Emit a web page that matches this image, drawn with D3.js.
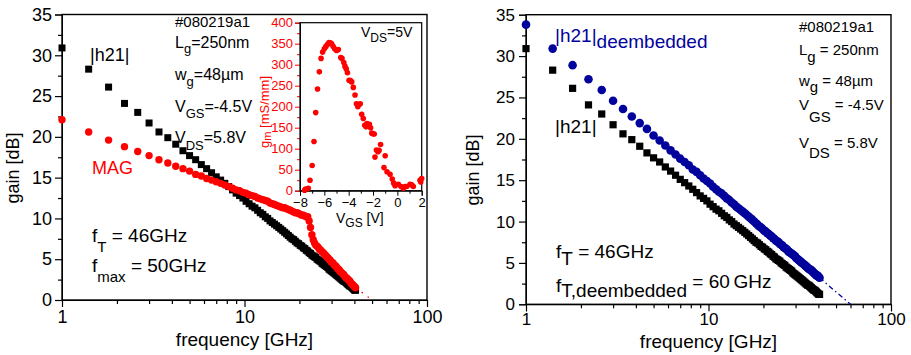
<!DOCTYPE html>
<html>
<head>
<meta charset="utf-8">
<script src="https://cdn.jsdelivr.net/npm/d3@7"></script>
<style>
  body { margin: 0; background: #fff; }
  svg { display: block; font-family: "Liberation Sans", Arial, Helvetica, sans-serif; }
</style>
</head>
<body>
<svg id="chart" width="911" height="355"></svg>
<script>
// measured frequencies (GHz)
const freqGHz = [1.0,1.4,1.8,2.2,2.6,3.0,3.4,3.8,4.2,4.6,5.0,5.4,5.8,6.2,6.6,7.0,7.4,7.8,8.2,8.6,
  9.0,9.4,9.8,10.2,10.6,11.0,11.4,11.8,12.2,12.6,13.0,13.4,13.8,14.2,14.6,15.0,15.4,15.8,16.2,16.6,
  17.0,17.4,17.8,18.2,18.6,19.0,19.4,19.8,20.2,20.6,21.0,21.4,21.8,22.2,22.6,23.0,23.4,23.8,24.2,24.6,
  25.0,25.4,25.8,26.2,26.6,27.0,27.4,27.8,28.2,28.6,29.0,29.4,29.8,30.2,30.6,31.0,31.4,31.8,32.2,32.6,
  33.0,33.4,33.8,34.2,34.6,35.0,35.4,35.8,36.2,36.6,37.0,37.4,37.8,38.2,38.6,39.0,39.4,39.8,40.2,40.6];

// |h21| (dB)
const h21dB = [30.9,28.3,26.1,24.1,23.0,21.7,20.6,19.9,19.1,18.3,
  17.7,17.2,16.6,16.1,15.6,15.1,14.7,14.3,13.9,13.5,
  13.1,12.8,12.5,12.1,11.8,11.5,11.3,11.0,10.7,10.5,
  10.2,10.0,9.7,9.5,9.3,9.1,8.9,8.7,8.5,8.3,
  8.1,7.9,7.7,7.5,7.4,7.2,7.0,6.9,6.7,6.6,
  6.4,6.3,6.1,6.0,5.8,5.7,5.5,5.4,5.3,5.2,
  5.0,4.9,4.8,4.7,4.5,4.4,4.3,4.2,4.1,4.0,
  3.8,3.7,3.6,3.5,3.4,3.3,3.2,3.1,3.0,2.9,
  2.8,2.7,2.6,2.5,2.4,2.3,2.3,2.2,2.1,2.0,
  1.9,1.8,1.7,1.7,1.6,1.5,1.4,1.3,1.2,1.2];

// MAG (dB)
const magDB = [22.1,20.6,19.6,18.8,18.2,17.7,17.2,16.8,16.4,16.1,
  15.8,15.4,15.2,14.9,14.7,14.5,14.3,14.1,13.9,13.7,
  13.5,13.4,13.2,13.1,12.9,12.8,12.7,12.5,12.4,12.3,
  12.2,12.1,11.9,11.8,11.7,11.6,11.5,11.4,11.3,11.3,
  11.2,11.1,11.0,10.9,10.8,10.7,10.7,10.6,10.5,10.4,
  10.4,10.3,10.2,10.2,9.7,8.9,8.0,7.4,7.0,6.7,
  6.6,6.4,6.2,6.1,5.9,5.8,5.6,5.5,5.3,5.2,
  5.0,4.9,4.7,4.6,4.5,4.3,4.2,4.1,3.9,3.8,
  3.7,3.5,3.4,3.3,3.2,3.1,2.9,2.8,2.7,2.6,
  2.5,2.4,2.3,2.1,2.0,1.9,1.8,1.7,1.6,1.5];

// |h21| deembedded (dB)
const h21DeembDB = [33.8,30.9,28.9,27.2,25.9,24.6,23.6,22.7,21.9,21.2,
  20.4,19.8,19.2,18.6,18.1,17.6,17.2,16.8,16.3,16.0,
  15.6,15.2,14.9,14.6,14.2,13.9,13.6,13.4,13.1,12.8,
  12.6,12.3,12.1,11.8,11.6,11.4,11.2,11.0,10.8,10.6,
  10.4,10.2,10.0,9.8,9.6,9.4,9.3,9.1,8.9,8.8,
  8.6,8.5,8.3,8.2,8.0,7.9,7.7,7.6,7.5,7.3,
  7.2,7.1,6.9,6.8,6.7,6.6,6.4,6.3,6.2,6.1,
  6.0,5.9,5.8,5.6,5.5,5.4,5.3,5.2,5.1,5.0,
  4.9,4.8,4.7,4.6,4.5,4.4,4.3,4.2,4.2,4.1,
  4.0,3.9,3.8,3.7,3.6,3.5,3.5,3.4,3.3,3.2];

// extrapolation to 0 dB
const magExtrapF = [40.6, 50];
const magExtrapG = [1.5, 0];
const deembExtrapF = [40.6, 60];
const deembExtrapG = [3.2, 0];

// inset: transconductance vs gate voltage
const vgsV = [-7.62,-7.55,-7.32,-7.18,-7.0,-6.85,-6.71,-6.56,-6.41,-6.27,-6.14,-6.0,-5.88,-5.75,-5.62,
  -5.5,-5.4,-5.28,-5.15,-5.0,-4.85,-4.65,-4.55,-4.4,-4.3,-4.2,-4.1,-3.97,-3.85,-3.75,-3.62,-3.48,-3.36,
  -3.25,-3.15,-3.05,-2.93,-2.8,-2.68,-2.58,-2.5,-2.4,-2.3,-2.2,-2.1,-1.98,-1.9,-1.84,-1.72,-1.6,-1.5,
  -1.38,-1.1,-1.0,-0.85,-0.6,-0.42,-0.3,-0.19,0.08,0.3,0.49,0.63,0.77,1.04,1.18,1.31,1.86,1.92,2.0];
const gmMSmm = [1,4,6,25,60,117,186,242,283,315,330,338,343,348,353,
  352,350,344,338,334,336,317,315,305,296,290,281,263,262,259,246,228,207,
  200,205,207,182,172,156,152,160,156,158,150,137,135,135,80,97,93,96,
  110,55,83,45,39,28,18,12,15,10,6,10,10,15,14,10,25,21,29];

// ticks
const freqTicks = [1, 10, 100];
const freqMinorTicks = [2,3,4,5,6,7,8,9,20,30,40,50,60,70,80,90];
const gainTicks = [0,5,10,15,20,25,30,35];
const gainMinorTicks = [2.5,7.5,12.5,17.5,22.5,27.5,32.5];
const vgsTicks = [-8,-6,-4,-2,0,2];
const vgsMinorTicks = [-7,-5,-3,-1,1];
const gmTicks = [0,50,100,150,200,250,300,350,400];
const gmMinorTicks = [25,75,125,175,225,275,325,375];

const RED = '#ff0000';
const BLUE = '#02029c';
const svg = d3.select('#chart');

// text with sub/superscript pieces: [text, baselineY, fontSize]
function label(x, parts, fill, anchor) {
  const t = svg.append('text').attr('x', x).attr('fill', fill || '#000')
    .attr('text-anchor', anchor || 'start');
  parts.forEach(p => t.append('tspan').attr('y', p[1]).attr('font-size', p[2]).text(p[0]));
  return t;
}

function panel(o) {
  const x = d3.scaleLog().domain([1, 100]).range([o.x0, o.x1]);
  const y = d3.scaleLinear().domain([0, 35]).range([o.y0, o.y1]);
  const g = svg.append('g');

  // minor ticks
  g.append('g').attr('transform', `translate(0,${o.y0})`)
    .call(d3.axisBottom(x).tickValues(freqMinorTicks).tickSize(4).tickFormat(''))
    .call(s => s.select('.domain').remove());
  g.append('g').attr('transform', `translate(${o.x0},0)`)
    .call(d3.axisLeft(y).tickValues(gainMinorTicks).tickSize(4).tickFormat(''))
    .call(s => s.select('.domain').remove());

  // major axes
  const xa = g.append('g').attr('transform', `translate(0,${o.y0})`)
    .call(d3.axisBottom(x).tickValues(freqTicks).tickSize(7).tickPadding(o.xPad).tickFormat(d3.format('d')));
  const ya = g.append('g').attr('transform', `translate(${o.x0},0)`)
    .call(d3.axisLeft(y).tickValues(gainTicks).tickSize(7).tickPadding(o.yPad));
  [xa, ya].forEach(a => {
    a.attr('font-size', o.fs).attr('font-family', null);
    a.selectAll('text').attr('fill', '#000');
  });
  g.selectAll('.tick line').attr('stroke-width', 1.2);

  // frame
  g.append('rect').attr('x', o.x0).attr('y', o.y1)
    .attr('width', o.x1 - o.x0).attr('height', o.y0 - o.y1)
    .attr('fill', 'none').attr('stroke', '#000').attr('stroke-width', 1.4);

  // axis titles
  svg.append('text').attr('x', (o.x0 + o.x1) / 2).attr('y', o.xTitleY)
    .attr('text-anchor', 'middle').attr('font-size', 19).text('frequency [GHz]');
  svg.append('text').attr('transform', `translate(${o.yTitleX},${o.yTitleMid}) rotate(-90)`)
    .attr('text-anchor', 'middle').attr('font-size', 18).text('gain [dB]');
  return { x, y };
}

function squares(p, ys, size) {
  svg.append('g').selectAll('rect').data(freqGHz).join('rect')
    .attr('x', (d) => p.x(d) - size / 2)
    .attr('y', (d, i) => p.y(ys[i]) - size / 2)
    .attr('width', size).attr('height', size).attr('fill', '#000');
}
function dots(p, ys, r, color) {
  svg.append('g').selectAll('circle').data(freqGHz).join('circle')
    .attr('cx', (d) => p.x(d))
    .attr('cy', (d, i) => p.y(ys[i]))
    .attr('r', r).attr('fill', color);
}
function extrap(p, fs, gs, color, dash) {
  const line = d3.line().x((d) => p.x(d[0])).y((d) => p.y(d[1]));
  svg.append('path').datum(fs.map((f, i) => [f, gs[i]]))
    .attr('d', line).attr('fill', 'none').attr('stroke', color)
    .attr('stroke-width', 1.3).attr('stroke-dasharray', dash);
}

// ---------- left panel ----------
const L = panel({ x0: 62, x1: 427, y0: 300, y1: 14.5, fs: 18, xPad: 3, yPad: 3,
  xTitleY: 346, yTitleX: 19, yTitleMid: 168 });
squares(L, h21dB, 7);
dots(L, magDB, 3.7, RED);
extrap(L, magExtrapF, magExtrapG, RED, '1.5,6');

label(90, [['|h21|', 61, 18]]);
label(92, [['MAG', 174, 18]], RED);
label(175, [['#080219a1', 27, 15]]);
label(175, [['L', 48, 16], ['g', 53, 13], ['=250nm', 48, 16]]);
label(175, [['w', 80, 16], ['g', 86, 13], ['=48\u00b5m', 80, 16]]);
label(175, [['V', 112, 16], ['GS', 118, 13], ['=-4.5V', 112, 16]]);
label(175, [['V', 143, 16], ['DS', 150, 13], ['=5.8V', 143, 16]]);
label(92, [['f', 241.5, 19], ['T', 251.5, 15], [' = 46GHz', 241.5, 19]]);
label(92, [['f', 271.5, 19], ['max', 281.5, 15], [' = 50GHz', 271.5, 19]]);

// ---------- inset ----------
const ix = d3.scaleLinear().domain([-8, 2]).range([300, 421.7]);
const iy = d3.scaleLinear().domain([0, 400]).range([190.7, 22.7]);
const ig = svg.append('g');
ig.append('rect').attr('x', 300).attr('y', 22.7).attr('width', 121.7).attr('height', 168)
  .attr('fill', '#fff');
ig.append('g').attr('transform', 'translate(0,190.7)')
  .call(d3.axisBottom(ix).tickValues(vgsMinorTicks).tickSize(3).tickFormat(''))
  .call(s => s.select('.domain').remove());
ig.append('g').attr('transform', 'translate(300,0)')
  .call(d3.axisLeft(iy).tickValues(gmMinorTicks).tickSize(3).tickFormat(''))
  .call(s => s.select('.domain').remove())
  .selectAll('line').attr('stroke', RED);
const ixa = ig.append('g').attr('transform', 'translate(0,190.7)')
  .call(d3.axisBottom(ix).tickValues(vgsTicks).tickSize(5).tickPadding(2));
ixa.attr('font-size', 13).attr('font-family', null);
ixa.selectAll('text').attr('fill', '#000');
const iya = ig.append('g').attr('transform', 'translate(300,0)')
  .call(d3.axisLeft(iy).tickValues(gmTicks).tickSize(5).tickPadding(2));
iya.attr('font-size', 13).attr('font-family', null);
iya.selectAll('text').attr('fill', RED);
iya.selectAll('line').attr('stroke', RED);
ig.append('rect').attr('x', 300).attr('y', 22.7).attr('width', 121.7).attr('height', 168)
  .attr('fill', 'none').attr('stroke', '#000').attr('stroke-width', 1.2);
ig.append('g').selectAll('circle').data(vgsV).join('circle')
  .attr('cx', (d) => ix(d)).attr('cy', (d, i) => iy(gmMSmm[i]))
  .attr('r', 2.8).attr('fill', RED);
label(361, [['V', 37, 14], ['DS', 42, 12], ['=5V', 37, 14]]);
label(336, [['V', 223, 14], ['GS', 227, 12], [' [V]', 223, 14]]);
svg.append('text').attr('transform', 'translate(269,112) rotate(-90)')
  .attr('text-anchor', 'middle').attr('fill', RED)
  .call(t => {
    t.append('tspan').attr('font-size', 13).text('g');
    t.append('tspan').attr('font-size', 11).attr('dy', 2).text('m');
    t.append('tspan').attr('font-size', 13).attr('dy', -2).text(' [mS/mm]');
  });

// ---------- right panel ----------
const R = panel({ x0: 526, x1: 891, y0: 304.3, y1: 14.7, fs: 17, xPad: 2, yPad: 4,
  xTitleY: 348, yTitleX: 479, yTitleMid: 170 });
squares(R, h21dB, 7.2);
dots(R, h21DeembDB, 4.3, BLUE);
extrap(R, deembExtrapF, deembExtrapG, BLUE, '5,3,1.5,3');

label(555, [['|h21|', 41.5, 19], ['deembedded', 48, 19]], BLUE);
label(555, [['|h21|', 133, 19]]);
label(799, [['#080219a1', 31.5, 15]]);
label(799, [['L', 55, 15], ['g', 62, 15], [' = 250nm', 55, 15]]);
label(799, [['w', 86, 15], ['g', 92, 15], [' = 48\u00b5m', 86, 15]]);
label(799, [['V', 110, 15], ['GS', 122, 15], [' = -4.5V', 110, 15]]);
label(799, [['V', 148, 15], ['DS', 158, 15], [' = 5.8V', 148, 15]]);
label(556, [['f', 258, 19], ['T', 265, 19], [' = 46GHz', 258, 19]]);
label(556, [['f', 291.5, 19], ['T,deembedded', 296.5, 19], [' = 60\u2009GHz', 288, 19]]);
</script>
</body>
</html>
